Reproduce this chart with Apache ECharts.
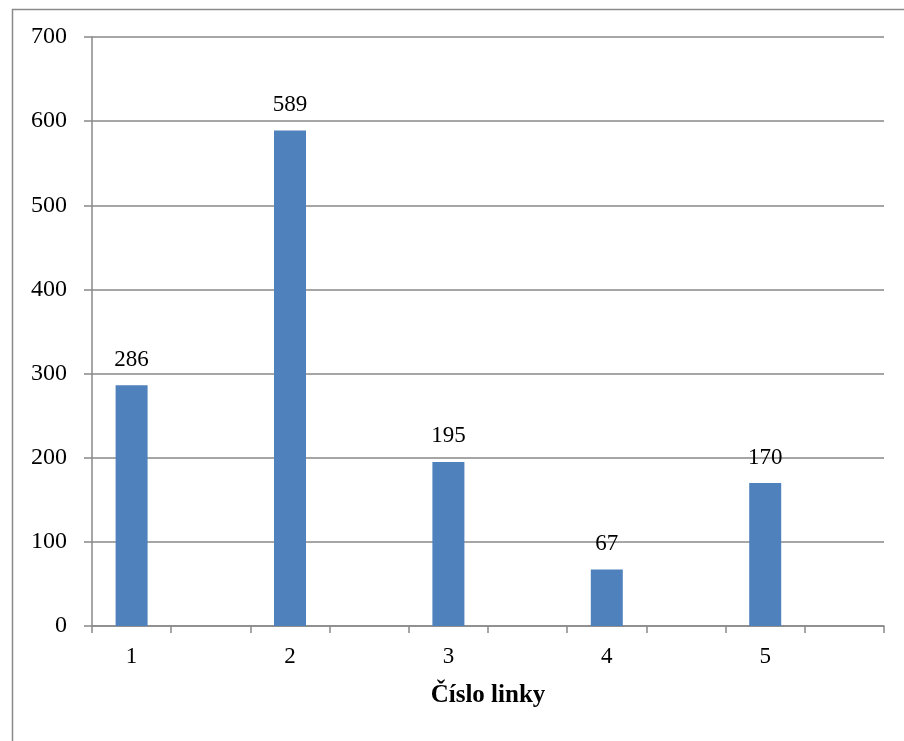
<!DOCTYPE html>
<html>
<head>
<meta charset="utf-8">
<script src="https://cdn.jsdelivr.net/npm/echarts@6/dist/echarts.min.js"></script>
<style>
html,body{margin:0;padding:0;background:#fff;}
#c{width:904px;height:741px;}
</style>
</head>
<body>
<div id="c"></div>
<script>
var lineNumbers = ['1', '2', '3', '4', '5'];
var passengers = [286, 589, 195, 67, 170];
var yTicks = [0, 100, 200, 300, 400, 500, 600, 700];
var axisTitle = 'Číslo linky';

// Each line occupies two slots on the axis (value slot + empty slot)
var slots = [];
var slotValues = [];
for (var i = 0; i < lineNumbers.length; i++) {
  slots.push(lineNumbers[i]);
  slotValues.push(passengers[i]);
  slots.push('gap' + i);
  slotValues.push(null);
}

var chart = echarts.init(document.getElementById('c'));
var gray = '#898989';
var serif = '"Liberation Serif", "Times New Roman", serif';
chart.setOption({
  animation: false,
  backgroundColor: '#fff',
  graphic: [{
    type: 'rect',
    shape: {x: 12.5, y: 9.5, width: 900, height: 740},
    style: {fill: 'none', stroke: '#8a8a8a', lineWidth: 1.5},
    silent: true
  }],
  grid: {left: 92, right: 20, top: 37, bottom: 115, containLabel: false},
  xAxis: {
    type: 'category',
    data: slots,
    boundaryGap: true,
    name: axisTitle,
    nameLocation: 'middle',
    nameGap: 57,
    nameTextStyle: {fontFamily: serif, fontWeight: 'bold', fontSize: 25, color: '#000'},
    axisLine: {lineStyle: {color: gray, width: 1.5}},
    axisTick: {show: true, interval: 0, length: 7, lineStyle: {color: gray, width: 1.5}},
    axisLabel: {
      interval: 0,
      margin: 19,
      fontFamily: serif,
      fontSize: 23,
      color: '#000',
      formatter: function (v) { return v.indexOf('gap') === 0 ? '' : v; }
    },
    splitLine: {show: false}
  },
  yAxis: {
    type: 'value',
    min: yTicks[0],
    max: yTicks[yTicks.length - 1],
    interval: 100,
    axisLine: {show: true, lineStyle: {color: gray, width: 1.5}},
    axisTick: {show: true, length: 8, lineStyle: {color: gray, width: 1.5}},
    axisLabel: {margin: 25, fontFamily: serif, fontSize: 24, color: '#000'},
    splitLine: {show: true, lineStyle: {color: gray, width: 1.5}}
  },
  series: [{
    type: 'bar',
    data: slotValues,
    barWidth: 32,
    itemStyle: {color: '#4F81BD'},
    label: {
      show: true,
      position: 'top',
      distance: 14,
      fontFamily: serif,
      fontSize: 23,
      color: '#000'
    }
  }]
});
</script>
</body>
</html>
